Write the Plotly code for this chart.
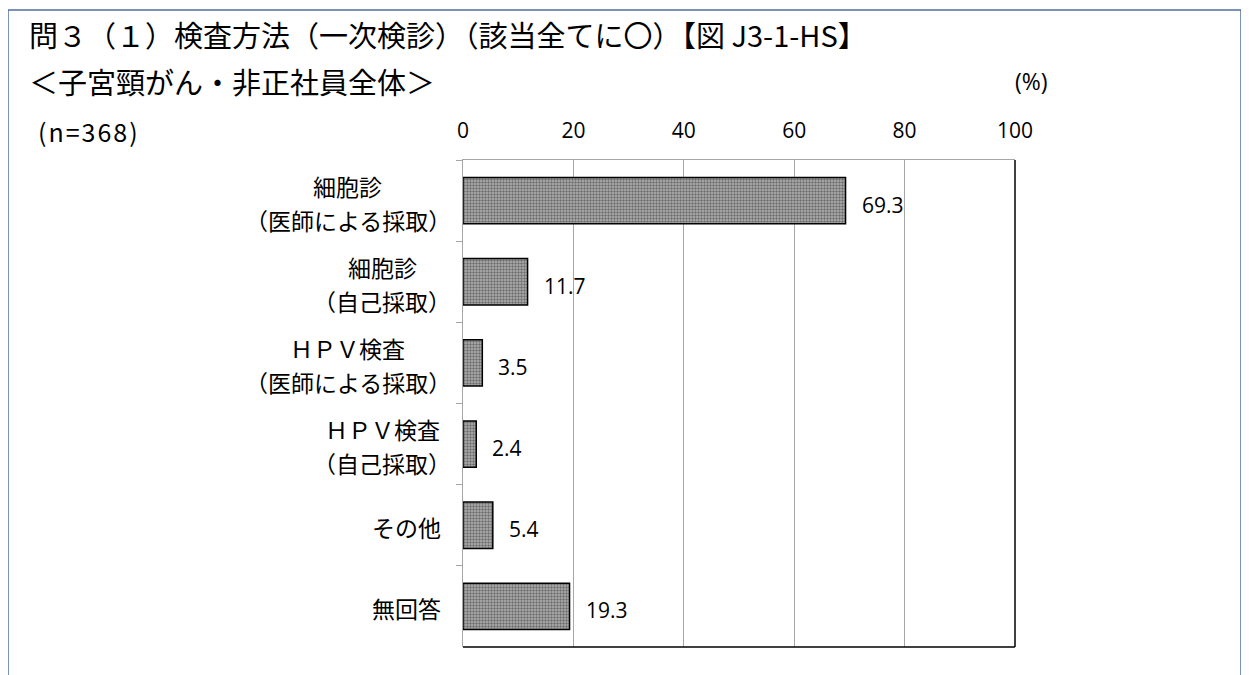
import plotly.graph_objects as go

categories = [["細胞診", "（医師による採取）"], ["細胞診", "（自己採取）"], ["ＨＰＶ検査", "（医師による採取）"],
              ["ＨＰＶ検査", "（自己採取）"], ["その他"], ["無回答"]]
values = [69.3, 11.7, 3.5, 2.4, 5.4, 19.3]
cat_ids = ["c1", "c2", "c3", "c4", "c5", "c6"]
title1 = "問３（１）検査方法（一次検診）（該当全てに〇）【図 J3-1-HS】"
title2 = "＜子宮頸がん・非正社員全体＞"
n_label = "(n=368)"
x_ticks = [0, 20, 40, 60, 80, 100]

# page body has an 8px margin; work in reference pixel coordinates and shift
OFF = 8
W, H = 1249 - OFF, 675 - OFF
L, R, T, B = 463, 1015, 160, 647
pw, ph = R - L, B - T

def px(x):
    return (x - L) / pw

def py(y):
    return (B - y) / ph

jp = "Noto Sans CJK JP"
num_font = "Open Sans"
CAT_FS = 23
LINE_GAP = 34

def est_width(s):
    w = 0.0
    for ch in s:
        if ch in "（）":
            w += 0.55
        elif ord(ch) > 255:
            w += 1.0
        else:
            w += 0.55
    return w * CAT_FS

fig = go.Figure()
fig.add_trace(go.Bar(
    x=values, y=cat_ids, orientation="h", width=0.57,
    marker=dict(color="#8c8c8c", line=dict(color="#000000", width=1.5),
                pattern=dict(shape=".", fgcolor="#262626", bgcolor="#b4b4b4", size=3, solidity=0.5)),
    hoverinfo="skip",
))

annotations = []
for cid, lines, v in zip(cat_ids, categories, values):
    block_w = max(est_width(s) for s in lines)
    cx = 441 - block_w / 2
    n = len(lines)
    for i, s in enumerate(lines):
        off = (i - (n - 1) / 2) * LINE_GAP
        annotations.append(dict(x=px(cx), xref="paper", y=cid, yref="y", text=s, showarrow=False,
                                xanchor="center", yanchor="middle",
                                font=dict(family=jp, size=CAT_FS, color="#000"), yshift=-(off + 2)))
    annotations.append(dict(x=v, xref="x", y=cid, yref="y", text=f"{v:.1f}", showarrow=False,
                            xanchor="left", yanchor="middle", xshift=14, yshift=-4,
                            font=dict(family=num_font, size=21, color="#000")))

annotations += [
    dict(x=px(27), y=py(34), xref="paper", yref="paper", text=title1, showarrow=False,
         xanchor="left", yanchor="middle", font=dict(family=jp, size=29, color="#000")),
    dict(x=px(27), y=py(81), xref="paper", yref="paper", text=title2, showarrow=False,
         xanchor="left", yanchor="middle", font=dict(family=jp, size=29, color="#000")),
    dict(x=px(36), y=py(131), xref="paper", yref="paper",
         text='<span style="letter-spacing:2px">' + n_label + '</span>', showarrow=False,
         xanchor="left", yanchor="middle", font=dict(family=jp, size=25, color="#000")),
    dict(x=px(1013), y=py(81), xref="paper", yref="paper", text="(%)", showarrow=False,
         xanchor="left", yanchor="middle", font=dict(family=num_font, size=23, color="#000")),
]

shapes = [
    dict(type="rect", xref="paper", yref="paper", x0=px(8), x1=px(1241), y0=py(700), y1=py(10),
         line=dict(color="#4f6f9f", width=1.5), layer="below"),
    dict(type="line", xref="paper", yref="paper", x0=0, x1=1, y0=0, y1=0,
         line=dict(color="#000000", width=1.5)),
    dict(type="line", xref="paper", yref="paper", x0=1, x1=1, y0=0, y1=1,
         line=dict(color="#000000", width=1.5)),
]

fig.update_layout(
    width=W, height=H,
    margin=dict(l=L - OFF, r=(W + OFF) - R, t=T - OFF, b=(H + OFF) - B, pad=0),
    paper_bgcolor="#ffffff", plot_bgcolor="#ffffff", showlegend=False,
    annotations=annotations, shapes=shapes,
    xaxis=dict(side="top", range=[0, 100], tickvals=x_ticks, showgrid=True, gridcolor="#a6a6a6",
               gridwidth=1.3, zeroline=False, showline=True, linecolor="#a6a6a6", linewidth=1.3,
               ticks="", ticklabelstandoff=12, tickfont=dict(family=num_font, size=21, color="#000"),
               fixedrange=True),
    yaxis=dict(type="category", autorange="reversed", showticklabels=False, showline=True,
               linecolor="#a6a6a6", linewidth=1.3, ticks="outside", ticklen=6, tickcolor="#a6a6a6",
               tickwidth=1.3, tickson="boundaries", showgrid=False, zeroline=False, fixedrange=True),
)

fig.write_html("out.html")
